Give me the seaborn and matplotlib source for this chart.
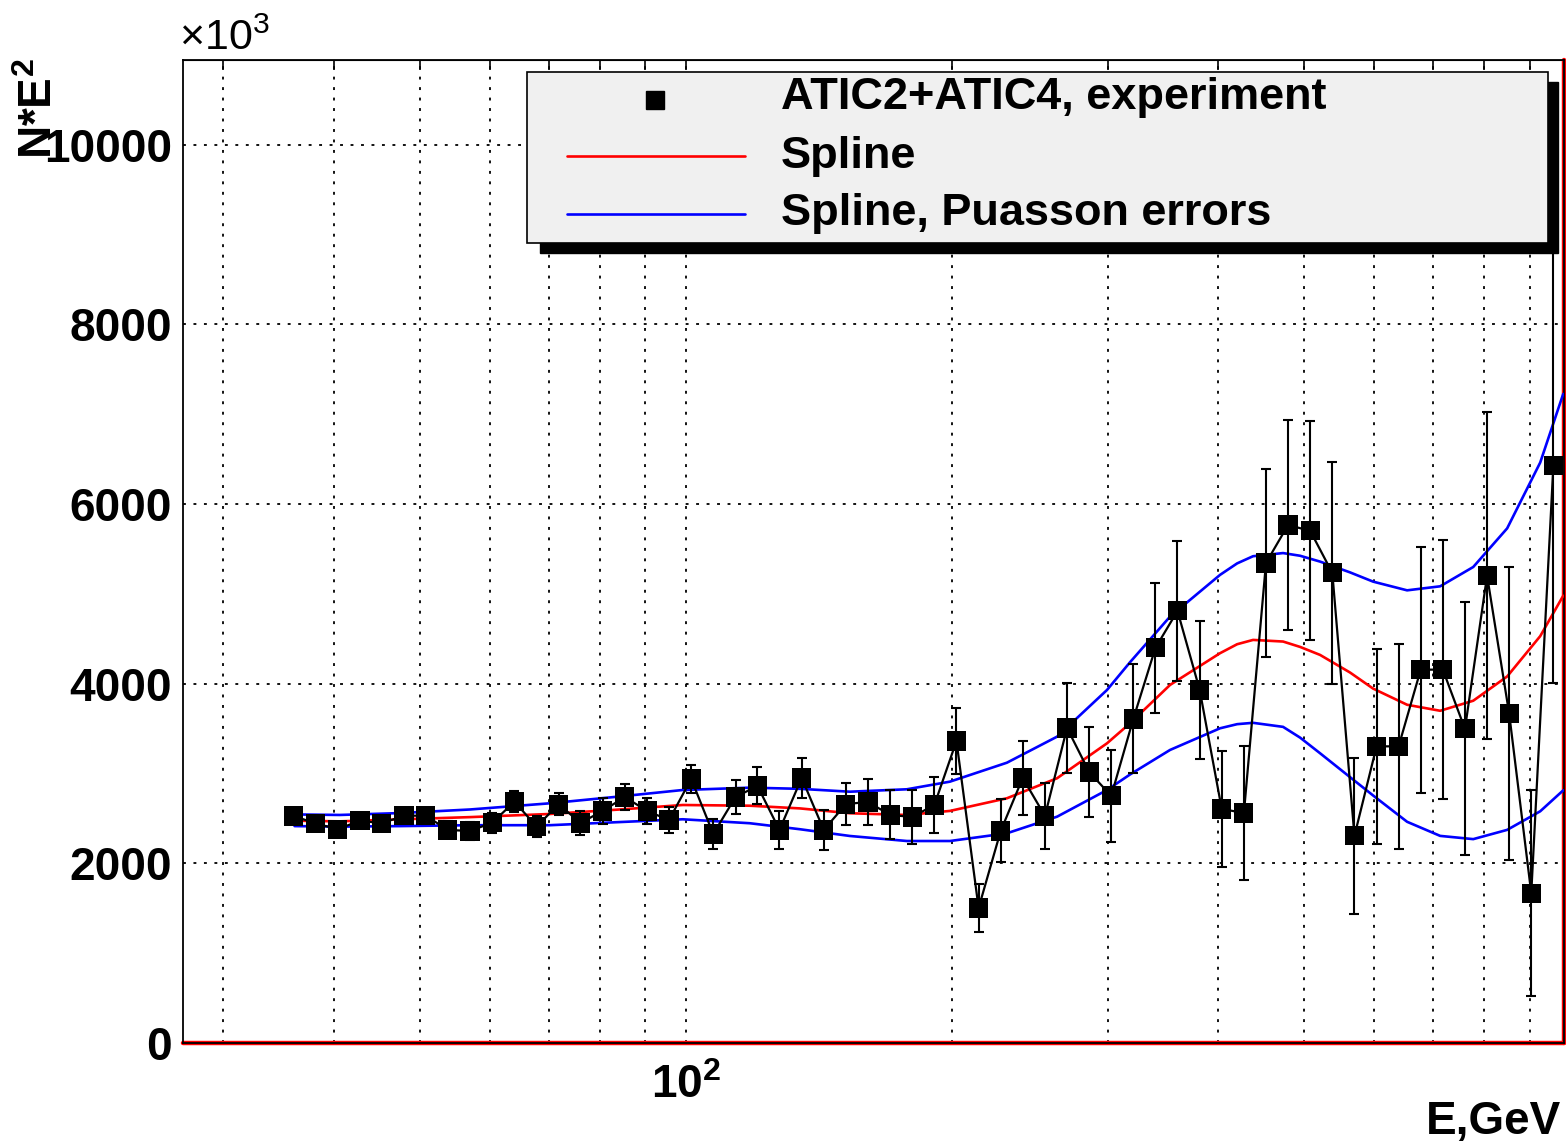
import matplotlib
matplotlib.use("Agg")
import matplotlib.pyplot as plt
from matplotlib.lines import Line2D
from matplotlib.patches import Rectangle
from matplotlib.ticker import FixedLocator, FixedFormatter, NullFormatter
import seaborn as sns

# ATIC2+ATIC4 measured spectrum, N*E^2 (units of 10^3) versus energy in GeV
energy = [36.0, 38.1, 40.4, 42.8, 45.3, 48.0, 50.8, 53.8, 57.0, 60.4,
          64.0, 67.8, 71.8, 76.0, 80.5, 85.3, 90.4, 95.7, 101.4, 107.4,
          113.8, 120.5, 127.6, 135.2, 143.2, 151.7, 160.7, 170.2, 180.3, 191.0,
          202.3, 214.3, 227.0, 240.4, 254.7, 269.8, 285.8, 302.7, 320.6, 339.6,
          359.7, 381.1, 403.6, 427.6, 452.9, 479.7, 508.2, 538.3, 570.2, 604.0,
          639.7, 677.6, 717.8, 760.3, 805.4, 853.1, 903.6, 957.1]
flux = [2528, 2446, 2380, 2476, 2446, 2531, 2531, 2372, 2361, 2453,
        2687, 2409, 2660, 2450, 2583, 2739, 2583, 2483, 2940, 2327,
        2739, 2862, 2372, 2951, 2372, 2660, 2684, 2539, 2517, 2650,
        3363, 1503, 2361, 2951, 2528, 3508, 3018, 2751, 3608, 4399,
        4811, 3931, 2606, 2561, 5345, 5768, 5702, 5234, 2306, 3303,
        3303, 4157, 4157, 3497, 5204, 3667, 1667, 6427]
flux_err = [60, 65, 70, 75, 80, 85, 90, 95, 100, 110,
            115, 120, 125, 130, 140, 140, 140, 150, 160, 167,
            184, 206, 208, 226, 223, 235, 260, 273, 297, 315,
            367, 269, 351, 414, 365, 503, 497, 510, 607, 720,
            783, 765, 650, 742, 1049, 1169, 1219, 1236, 865, 1088,
            1144, 1371, 1443, 1409, 1822, 1629, 1146, 2414]

# spline fit and its Poisson error band
spline_energy = [36.1, 40.6, 47.5, 57.0, 70.2, 84.2, 99.2, 118.1, 134.6, 153.3,
                 177.8, 198.9, 230.7, 262.9, 299.4, 317.9, 352.8, 401.8, 420.1, 437.9,
                 473.5, 495.0, 521.4, 563.7, 598.6, 654.0, 712.8, 776.9, 848.6, 924.9,
                 982.0]
spline_central = [2475, 2468, 2490, 2515, 2550, 2600, 2650, 2642, 2612, 2558,
                  2539, 2584, 2725, 2948, 3337, 3560, 3987, 4340, 4440, 4488,
                  4470, 4410, 4321, 4125, 3946, 3766, 3699, 3811, 4081, 4530,
                  4980]
spline_upper = [2545, 2539, 2560, 2600, 2669, 2745, 2817, 2843, 2830, 2798,
                2825, 2910, 3121, 3411, 3931, 4240, 4748, 5212, 5340, 5420,
                5455, 5425, 5360, 5240, 5137, 5040, 5085, 5300, 5730, 6463,
                7227]
spline_lower = [2415, 2409, 2415, 2425, 2425, 2460, 2491, 2447, 2380, 2305,
                2249, 2249, 2335, 2520, 2817, 2990, 3263, 3504, 3550, 3565,
                3520, 3400, 3226, 2960, 2756, 2463, 2306, 2270, 2373, 2580,
                2813]

legend_labels = ["ATIC2+ATIC4, experiment", "Spline", "Spline, Puasson errors"]
x_major = [100]
x_minor = [30, 40, 50, 60, 70, 80, 90, 200, 300, 400, 500, 600, 700, 800, 900]
y_major = [0, 2000, 4000, 6000, 8000, 10000]
y_minor = [500, 1000, 1500, 2500, 3000, 3500, 4500, 5000, 5500, 6500, 7000, 7500,
           8500, 9000, 9500, 10500]

sns.set_style("white")
plt.rcParams["font.family"] = ["Liberation Sans", "DejaVu Sans"]
plt.rcParams["mathtext.fontset"] = "custom"
plt.rcParams["mathtext.rm"] = "Liberation Sans"
plt.rcParams["mathtext.bf"] = "Liberation Sans:bold"
plt.rcParams["mathtext.it"] = "Liberation Sans:italic"
for key in ["text.color", "axes.labelcolor", "xtick.color", "ytick.color",
            "axes.edgecolor"]:
    plt.rcParams[key] = "black"

W, H = 1566, 1145
fig = plt.figure(figsize=(W / 100, H / 100), dpi=100)


def fx(px):
    return px / W


def fy(py):
    return 1 - py / H


ax = fig.add_axes([fx(183), fy(1043), fx(1564) - fx(183), fy(60) - fy(1043)])
ax.set_xscale("log")
ax.set_xlim(27, 984)
ax.set_ylim(0, 10945)

grid_style = dict(color="black", linestyle=(0, (1.6, 4.2)), linewidth=1.3)
ax.xaxis.set_major_locator(FixedLocator(x_major))
ax.xaxis.set_minor_locator(FixedLocator(x_minor))
ax.xaxis.set_major_formatter(FixedFormatter([r"10$^{\mathbf{2}}$"]))
ax.xaxis.set_minor_formatter(NullFormatter())
ax.yaxis.set_major_locator(FixedLocator(y_major))
ax.yaxis.set_minor_locator(FixedLocator(y_minor))
ax.xaxis.grid(True, which="both", **grid_style)
ax.yaxis.grid(True, which="major", **grid_style)
ax.yaxis.grid(False, which="minor")
ax.set_axisbelow(True)

ax.tick_params(axis="x", which="major", direction="in", length=19, width=1.2,
               pad=15, labelsize=33, colors="black")
ax.tick_params(axis="x", which="minor", direction="in", length=11.5, width=1.2,
               colors="black")
ax.tick_params(axis="y", which="major", direction="in", length=29, width=1.2,
               pad=8, labelsize=33, colors="black")
ax.tick_params(axis="y", which="minor", direction="in", length=14.5, width=1.2,
               colors="black")
for lab in ax.get_xticklabels() + ax.get_yticklabels():
    lab.set_fontweight("bold")

top = ax.secondary_xaxis("top")
top.xaxis.set_major_locator(FixedLocator(x_major))
top.xaxis.set_minor_locator(FixedLocator(x_minor))
top.tick_params(which="both", direction="in", length=7, width=1.2,
                labeltop=False, colors="black")
top.xaxis.set_major_formatter(NullFormatter())
top.xaxis.set_minor_formatter(NullFormatter())

for sp in ax.spines.values():
    sp.set_linewidth(1.3)
    sp.set_color("black")

# red spline frame along the lower and right edges
ax.axhline(0, color="red", lw=3.2, zorder=2, clip_on=False)
ax.axvline(ax.get_xlim()[1], color="red", lw=3.2, zorder=2, clip_on=False)

# spline curves
sns.lineplot(x=spline_energy, y=spline_upper, color="#0000ff", lw=1.9,
             sort=False, estimator=None, ax=ax, zorder=3)
sns.lineplot(x=spline_energy, y=spline_lower, color="#0000ff", lw=1.9,
             sort=False, estimator=None, ax=ax, zorder=3)
sns.lineplot(x=spline_energy, y=spline_central, color="red", lw=1.9,
             sort=False, estimator=None, ax=ax, zorder=3)

# measured points
ax.errorbar(energy, flux, yerr=flux_err, fmt="none", ecolor="black",
            elinewidth=1.5, capsize=3.4, capthick=1.5, zorder=4)
sns.lineplot(x=energy, y=flux, color="black", lw=1.6, sort=False,
             estimator=None, ax=ax, zorder=4)
sns.scatterplot(x=energy, y=flux, marker="s", s=190, color="black",
                edgecolor="none", ax=ax, zorder=5)
ax.set_xlabel("")
ax.set_ylabel("")

# axis titles
fig.text(fx(1561), fy(1134), "E,GeV", ha="right", va="baseline",
         fontsize=33, fontweight="bold")
fig.text(fx(40), fy(58), r"N*E$^{\mathbf{2}}$", rotation=90, ha="center",
         va="top", fontsize=33, fontweight="bold")
fig.text(fx(179), fy(50), r"$\times$10$^{3}$", ha="left", va="baseline",
         fontsize=31)

# legend box with drop shadow
fig.add_artist(Rectangle((fx(540), fy(253)), fx(1558) - fx(540),
                         fy(82) - fy(253), transform=fig.transFigure,
                         facecolor="black", edgecolor="black", zorder=10))
fig.add_artist(Rectangle((fx(527), fy(243)), fx(1548) - fx(527),
                         fy(72) - fy(243), transform=fig.transFigure,
                         facecolor="#f0f0f0", edgecolor="black", lw=1.2,
                         zorder=11))
fig.add_artist(Line2D([fx(655)], [fy(100)], transform=fig.transFigure,
                      marker="s", markersize=13.5, color="black", lw=0,
                      zorder=12))
fig.add_artist(Line2D([fx(567), fx(745)], [fy(156), fy(156)],
                      transform=fig.transFigure, color="red", lw=1.9, zorder=12))
fig.add_artist(Line2D([fx(567), fx(745)], [fy(214), fy(214)],
                      transform=fig.transFigure, color="#0000ff", lw=1.9,
                      zorder=12))
for label, py in zip(legend_labels, [98, 156, 214]):
    fig.text(fx(781), fy(py), label, ha="left", va="center", fontsize=32.5,
             fontweight="bold", zorder=13)

fig.savefig("out.png", dpi=100)
